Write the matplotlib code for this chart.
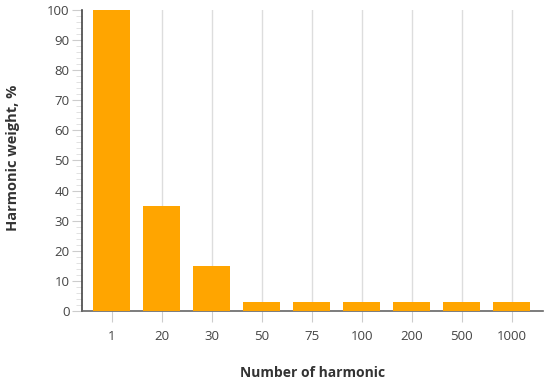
import matplotlib
matplotlib.use("Agg")
import matplotlib.pyplot as plt
import numpy as np

categories = ["1", "20", "30", "50", "75", "100", "200", "500", "1000"]
values = [100, 35, 15, 3, 3, 3, 3, 3, 3]

plt.rcParams['font.family'] = ['Open Sans', 'DejaVu Sans']

fig = plt.figure(figsize=(5.5, 3.83), dpi=100)
ax = fig.add_axes([0.149, 0.188, 0.838, 0.786])

x = np.arange(len(categories))
ax.bar(x, values, width=0.74, color="#FFA500", zorder=3)

ax.set_xlim(-0.6, 8.62)
ax.set_ylim(0, 100)
ax.set_xticks(x)
ax.set_xticklabels(categories)
ax.set_yticks(np.arange(0, 101, 10))
ax.set_yticks(np.arange(0, 101, 2), minor=True)
ax.grid(axis="x", color="#dddddd", linewidth=1, zorder=0)

for s in ["top", "right"]:
    ax.spines[s].set_visible(False)
ax.spines["left"].set_color("#444444")
ax.spines["bottom"].set_color("#666666")
ax.spines["left"].set_linewidth(1.2)
ax.spines["bottom"].set_linewidth(1.2)

ax.tick_params(axis="y", which="major", length=7, color="#cccccc", labelsize=9.5, labelcolor="#444444", pad=2)
ax.tick_params(axis="y", which="minor", length=4, color="#dddddd")
ax.tick_params(axis="x", which="major", length=8, color="#cccccc", labelsize=9.5, labelcolor="#444444", pad=6)

ax.set_xlabel("Number of harmonic", fontsize=10, fontweight="bold", color="#333333", labelpad=16)
ax.set_ylabel("Harmonic weight, %", fontsize=10.5, fontweight="bold", color="#333333")
ax.yaxis.set_label_coords(-0.135, 0.51)

fig.savefig("out.png", dpi=100)
